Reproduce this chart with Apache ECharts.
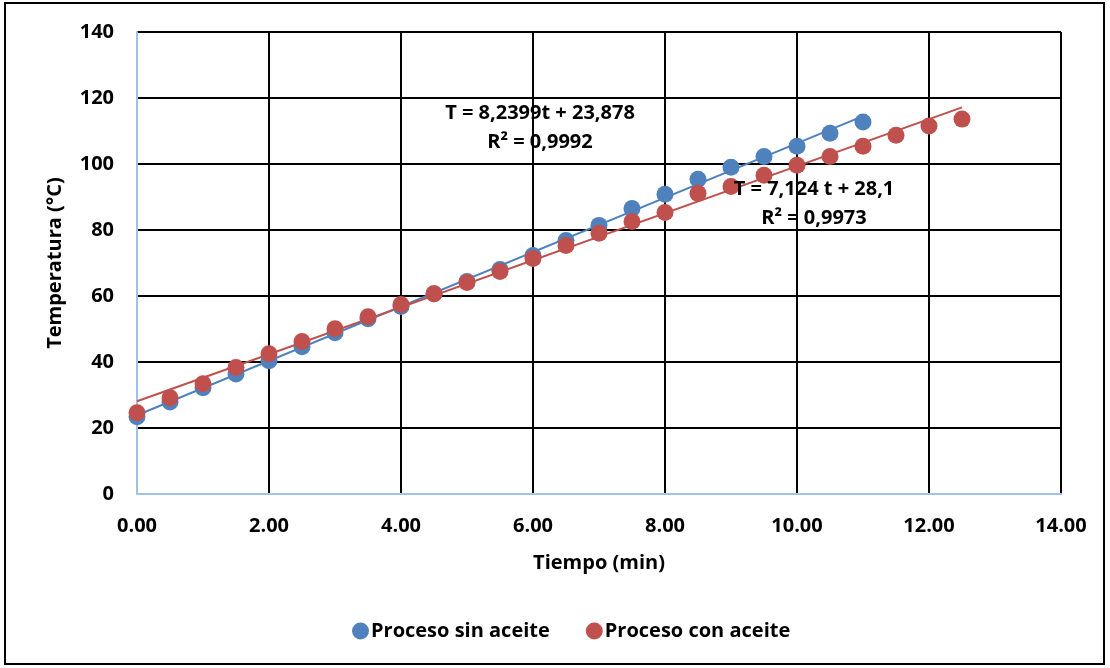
<!DOCTYPE html>
<html><head><meta charset="utf-8">
<script src="https://cdn.jsdelivr.net/npm/echarts@6/dist/echarts.min.js"></script>
<style>
html,body{margin:0;padding:0;background:#fff;}
#frame{position:absolute;left:4px;top:2px;width:1101px;height:663px;border:2px solid #000;box-sizing:border-box;}
#c{position:absolute;left:0;top:0;width:1110px;height:668px;}
</style></head><body>
<div id="frame"></div>
<div id="c"></div>
<script>
const tSin = [0,0.5,1,1.5,2,2.5,3,3.5,4,4.5,5,5.5,6,6.5,7,7.5,8,8.5,9,9.5,10,10.5,11];
const sinAceite = [23.4,27.9,32.2,36.4,40.4,44.6,48.9,53.1,56.8,60.7,64.4,68.0,72.3,76.8,81.4,86.5,90.8,95.4,99.0,102.3,105.4,109.3,112.7];
const tCon = [0,0.5,1,1.5,2,2.5,3,3.5,4,4.5,5,5.5,6,6.5,7,7.5,8,8.5,9,9.5,10,10.5,11,11.5,12,12.5];
const conAceite = [24.6,29.2,33.4,38.3,42.5,46.2,50.1,53.7,57.4,60.7,64.1,67.4,71.4,75.3,79.0,82.6,85.3,91.1,93.2,96.6,99.6,102.3,105.4,108.7,111.5,113.6];
const trendSinX = [0, 11];
const trendSinY = [23.878, 114.517];
const trendConX = [0, 12.5];
const trendConY = [28.1, 117.15];
const seriesNames = ['Proceso sin aceite','Proceso con aceite'];
const eqSin = ['T = 8,2399t + 23,878','R² = 0,9992'];
const eqCon = ['T = 7,124 t + 28,1','R² = 0,9973'];
const xTitle = 'Tiempo (min)';
const yTitle = 'Temperatura (°C)';

const FONT = '"Open Sans"';
const blue = '#4F81BD', red = '#C0504D';
const chart = echarts.init(document.getElementById('c'));
const zip = (a,b)=>a.map((v,i)=>[v,b[i]]);
chart.setOption({
  animation:false,
  textStyle:{fontFamily:FONT},
  grid:{left:137,right:49,top:32,bottom:174},
  xAxis:{type:'value',min:0,max:14,interval:2,
    name:xTitle,nameLocation:'middle',nameGap:59,
    nameTextStyle:{fontFamily:FONT,fontWeight:'bold',fontSize:20,color:'#000'},
    axisLine:{show:true,lineStyle:{color:'#9DC3E6',width:2}},
    axisTick:{show:false},
    axisLabel:{formatter:v=>v.toFixed(2),fontFamily:FONT,fontWeight:'bold',fontSize:20,color:'#000',margin:22},
    splitLine:{show:true,lineStyle:{color:'#000',width:2}}},
  yAxis:{type:'value',min:0,max:140,interval:20,
    name:yTitle,nameLocation:'middle',nameGap:72,
    nameTextStyle:{fontFamily:FONT,fontWeight:'bold',fontSize:20,color:'#000'},
    axisLine:{show:true,lineStyle:{color:'#9DC3E6',width:2}},
    axisTick:{show:false},
    axisLabel:{fontFamily:FONT,fontWeight:'bold',fontSize:20,color:'#000',margin:23},
    splitLine:{show:true,lineStyle:{color:'#000',width:2}}},
  legend:{bottom:22,left:347,itemGap:36,icon:'circle',itemWidth:17,itemHeight:17,
    textStyle:{fontFamily:FONT,fontWeight:'bold',fontSize:20,color:'#000',padding:[0,0,0,-3]},
    data:seriesNames},
  series:[
    {name:'trendSin',type:'line',data:zip(trendSinX,trendSinY),symbol:'none',lineStyle:{color:blue,width:2},z:3,silent:true},
    {name:'trendCon',type:'line',data:zip(trendConX,trendConY),symbol:'none',lineStyle:{color:red,width:2},z:3,silent:true},
    {name:seriesNames[0],type:'scatter',data:zip(tSin,sinAceite),symbolSize:17,itemStyle:{color:blue,opacity:1},z:4},
    {name:seriesNames[1],type:'scatter',data:zip(tCon,conAceite),symbolSize:17,itemStyle:{color:red,opacity:1},z:5}
  ],
  graphic:[
    {type:'text',z:10,style:{text:eqSin[0]+'\n'+eqSin[1],align:'center',lineHeight:29,font:'bold 20px '+FONT,fill:'#000'},position:[540,99]},
    {type:'text',z:10,style:{text:eqCon[0]+'\n'+eqCon[1],align:'center',lineHeight:29,font:'bold 20px '+FONT,fill:'#000'},position:[814,175]}
  ]
});
</script></body></html>
